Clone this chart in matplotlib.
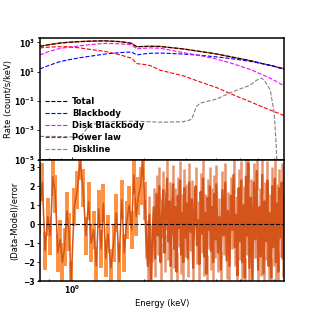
import matplotlib
matplotlib.use("Agg")
import matplotlib.pyplot as plt
import matplotlib.ticker as mticker
import numpy as np

plt.rcParams['font.family'] = ['DejaVu Sans']
plt.rcParams['font.weight'] = 'bold'

# ---------------- model components (log10 count/s/keV) ----------------
model_energy = [0.733, 0.807, 0.888, 0.959, 1.077, 1.186, 1.37, 1.584, 1.71, 1.77,
                1.86, 2.015, 2.115, 2.328, 2.905, 3.42, 4.03, 4.57, 5.54, 6.22, 6.92, 7.69]
total_log = [2.73, 2.85, 2.95, 3.0, 3.05, 3.08, 3.1, 3.05, 2.97, 2.93,
             2.70, 2.72, 2.73, 2.72, 2.55, 2.38, 2.2, 2.02, 1.75, 1.55, 1.38, 1.19]
bbody_log = [1.19, 1.45, 1.68, 1.8, 1.95, 2.05, 2.2, 2.3, 2.33, 2.34,
             2.14, 2.22, 2.25, 2.27, 2.2, 2.12, 2.0, 1.9, 1.7, 1.55, 1.38, 1.15]
diskbb_log = [2.14, 2.4, 2.58, 2.66, 2.76, 2.84, 2.93, 2.9, 2.85, 2.82,
              2.55, 2.6, 2.62, 2.6, 2.3, 2.1, 1.85, 1.6, 1.15, 0.8, 0.45, 0.02]
powerlaw_log = [2.62, 2.68, 2.7, 2.7, 2.62, 2.52, 2.38, 2.15, 1.98, 1.93,
                1.55, 1.48, 1.42, 1.1, 0.72, 0.3, -0.1, -0.5, -1.05, -1.4, -1.7, -2.0]

line_energy = [0.733, 0.85, 0.98, 1.05, 1.10, 1.15, 1.20, 1.25, 1.30, 1.5, 1.86, 2.3,
               2.9, 3.1, 3.16, 3.3, 3.42, 4.03, 4.57, 5.54, 5.9, 6.2, 6.4, 6.72, 6.98,
               7.12, 7.2]
line_log = [-3.42, -3.42, -3.45, -3.5, -3.3, -2.9, -2.7, -2.55, -2.45, -2.4, -2.38, -2.45,
            -2.42, -2.3, -2.22, -1.4, -1.15, -0.86, -0.44, 0.08, 0.42, 0.56, 0.31, -0.25, -1.8,
            -4.1, -6.0]

# ---------------- residuals ----------------
resid_energy = [
    0.73, 0.75, 0.77, 0.79, 0.81, 0.83, 0.85, 0.87, 0.89, 0.91, 0.93, 0.95, 0.97, 0.99,
    1.02, 1.05, 1.08, 1.11, 1.14, 1.17, 1.20, 1.23, 1.26, 1.29, 1.32, 1.35, 1.38, 1.41,
    1.45, 1.49, 1.53, 1.57, 1.61, 1.65, 1.69, 1.73, 1.77, 1.81, 1.85, 1.89, 1.93, 1.97, 2.01,
    2.04, 2.07, 2.10, 2.13, 2.16, 2.19, 2.22, 2.25, 2.28, 2.31, 2.34, 2.37, 2.40, 2.43, 2.46,
    2.49, 2.52, 2.55, 2.58, 2.61, 2.64, 2.67, 2.70, 2.73, 2.76, 2.79, 2.82, 2.85, 2.88, 2.91,
    2.94, 2.97, 3.00,
    3.04, 3.08, 3.12, 3.16, 3.20, 3.24, 3.28, 3.32, 3.36, 3.40, 3.44, 3.48, 3.52, 3.56, 3.60,
    3.64, 3.68, 3.72, 3.76, 3.80, 3.84, 3.88, 3.92, 3.96, 4.00,
    4.06, 4.12, 4.18, 4.24, 4.30, 4.36, 4.42, 4.48, 4.54, 4.60, 4.66, 4.72, 4.78, 4.84, 4.90,
    4.96, 5.02, 5.08, 5.14, 5.20, 5.26, 5.32, 5.38, 5.44, 5.50,
    5.58, 5.66, 5.74, 5.82, 5.90, 5.98, 6.06, 6.14, 6.22, 6.30, 6.38, 6.46, 6.54, 6.62, 6.70,
    6.78, 6.86, 6.94, 7.02, 7.10, 7.18, 7.26, 7.34, 7.42, 7.50, 7.58, 7.66]
resid_value = [
    0.5, 2.2, -1.4, 0.4, -0.6, 2.5, 1.6, -1.5, -0.8, -2.0, -1.2, 0.7, -0.4, -3.0,
    0.9, 1.8, 3.3, 1.9, -0.6, 1.2, -1.0, -0.3, -2.2, 0.8, -1.3, 1.1, -1.8, -0.5,
    -2.3, -1.0, 0.6, -2.0, 1.3, -1.5, 0.2, 1.0, -0.3, 2.6, 0.4, 1.5, 2.0, 3.3, 1.2,
    -0.8, -2.2, 0.5, -2.9, -1.0, 0.9, -1.8, 1.6, -0.6, 2.0, -2.0, 0.3, 1.8, -1.5, 0.7,
    2.4, -0.9, 1.2, -2.2, 0.4, 2.1, -1.3, 0.9, -2.5, 1.5, -0.2, 2.3, -1.6, 0.6, -2.0,
    1.9, -0.7, 1.1,
    -1.8, 2.2, -0.4, 1.3, -2.3, 0.8, 2.0, -1.1, 0.2, -2.1, 1.7, -0.5, 2.4, -1.7, 0.6,
    -2.6, 1.4, -0.3, 2.0, -1.4, 0.9, -2.0, 1.6, -0.8, 2.1,
    -1.5, 0.4, -2.4, 1.8, -0.6, 2.2, -1.9, 0.7, -2.2, 1.5, -0.3, 2.6, -1.2, 0.5, -2.7,
    1.9, -0.9, 2.3, -2.0, 1.0, -2.8, 2.5, -0.6, 3.2, -2.3,
    1.4, -2.9, 2.2, -0.8, 2.8, -2.4, 0.9, -1.7, 2.6, -2.6, 1.2, -0.9, 2.3, -2.2, 0.6,
    -2.8, 2.0, -1.2, 2.4, -2.0, 1.1, -2.5, 1.9, -0.7, 2.2, -1.8, 1.5]
resid_error = [1.0] * len(resid_value)
soft_split = 43  # first bins (below ~2 keV) drawn with the brighter error colour

labels = ['Total', 'Blackbody', 'Disk Blackbody', 'Power law', 'Diskline']
colors = ['black', 'blue', 'magenta', 'red', 'gray']
dark_orange = '#d4541c'
bright_orange = '#fd913f'
salmon = '#e8946a'

fig, (ax1, ax2) = plt.subplots(2, 1, sharex=True, figsize=(3.16, 3.16), dpi=100,
                               gridspec_kw=dict(hspace=0))

to_lin = lambda a: np.power(10.0, np.asarray(a))
ax1.plot(model_energy, to_lin(total_log), color=dark_orange, lw=1.0, zorder=1)
series = [total_log, bbody_log, diskbb_log, powerlaw_log]
for vals, lab, col in zip(series, labels[:4], colors[:4]):
    ax1.plot(model_energy, to_lin(vals), ls='--', color=col, lw=0.8, label=lab, zorder=2)
ax1.plot(line_energy, to_lin(line_log), ls='--', color=colors[4], lw=0.8, label=labels[4], zorder=2)

ax1.set_xscale('log')
ax1.set_yscale('log')
ax1.set_ylim(1e-5, 2e3)
ax1.set_xlim(0.73, 7.7)
ax1.yaxis.set_major_locator(mticker.FixedLocator([1e-5, 1e-3, 1e-1, 1e1, 1e3]))
ax1.yaxis.set_minor_locator(mticker.NullLocator())
ax1.yaxis.set_major_formatter(mticker.FuncFormatter(
    lambda v, p: r'$\mathbf{10^{%d}}$' % int(round(np.log10(v)))))
ax1.set_ylabel('Rate (count/s/keV)', fontsize=6, fontweight='normal', labelpad=1)
leg = ax1.legend(loc='lower left', frameon=False, handlelength=2.6,
                 labelspacing=0.35, borderaxespad=0.3, handletextpad=0.6,
                 prop=dict(weight='bold', size=6))

e = np.asarray(resid_energy)
r = np.asarray(resid_value)
er = np.asarray(resid_error)
ax2.errorbar(e[:soft_split], r[:soft_split], yerr=er[:soft_split], fmt='none',
             ecolor=bright_orange, elinewidth=2.8)
ax2.errorbar(e[soft_split - 1:], r[soft_split - 1:], yerr=er[soft_split - 1:], fmt='none',
             ecolor=salmon, elinewidth=1.8)
ax2.plot(e[:soft_split], r[:soft_split], '-', color=dark_orange, lw=1.1)
ax2.plot(e[soft_split - 1:], r[soft_split - 1:], '-', color=dark_orange, lw=1.6)
ax2.axhline(0, color='black', ls='--', lw=0.8)
ax2.set_ylim(-3, 3.4)
ax2.set_yticks([-3, -2, -1, 0, 1, 2, 3])
ax2.set_ylabel('(Data-Model)/error', fontsize=6, fontweight='normal', labelpad=3)
ax2.set_xlabel('Energy (keV)', fontsize=6, fontweight='normal', labelpad=2)
ax2.xaxis.set_major_locator(mticker.FixedLocator([1.0]))
ax2.xaxis.set_major_formatter(mticker.FuncFormatter(lambda v, p: r'$\mathbf{10^{0}}$'))
ax2.xaxis.set_minor_locator(mticker.FixedLocator([0.8, 0.9, 2, 3, 4, 5, 6, 7]))
ax2.xaxis.set_minor_formatter(mticker.NullFormatter())

for ax in (ax1, ax2):
    ax.tick_params(axis='both', labelsize=5.5, width=0.6, length=2, pad=1.5)
    ax.tick_params(axis='x', which='both', direction='in')
    ax.tick_params(axis='x', which='minor', length=1.5)
    for s in ax.spines.values():
        s.set_linewidth(1.1)
    for t in ax.get_yticklabels():
        t.set_fontweight('bold')

fig.savefig('out.png', dpi=100)
